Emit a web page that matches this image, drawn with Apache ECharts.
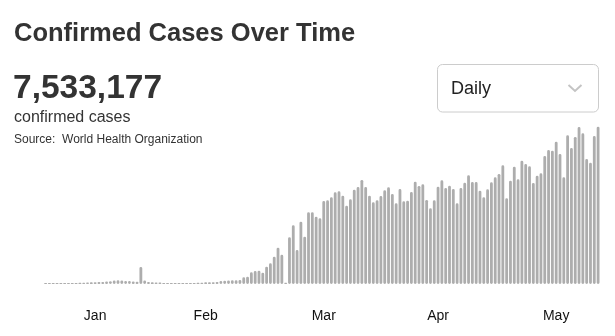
<!DOCTYPE html>
<html>
<head>
<meta charset="utf-8">
<script src="https://cdn.jsdelivr.net/npm/echarts@6/dist/echarts.min.js"></script>
<style>
html,body{margin:0;padding:0;background:#fff;}
#chart{width:615px;height:336px;}
</style>
</head>
<body>
<div id="chart"></div>
<script>
// ---- data ----
var startDate = '2020-01-19';
var dayCount = 146;
var dailyCases = [
  200,150,300,250,450,600,700,650,800,1050,
  1150,1400,1500,1550,1650,1750,2100,2400,3000,3200,
  3100,2700,2500,2100,1900,14800,3000,1700,1500,1400,
  1300,700,650,600,700,650,750,800,850,950,
  1050,1150,1450,1500,1600,1750,2600,2850,3050,3200,
  3200,3500,5800,6300,10100,11200,11500,9800,15000,17900,
  23600,31400,25300,1100,40400,50800,29400,53900,40900,62000,
  62000,58200,56800,71800,72400,75000,79300,80200,76400,67700,
  73300,81600,83900,90000,83900,76400,70700,72400,76100,81000,
  83600,77900,69800,82200,71500,72100,79600,88500,84800,86200,
  72700,65500,72400,84200,89700,83000,85000,82200,69800,83000,
  87600,94000,88200,88200,80700,75000,81900,88000,92300,95200,
  102700,74100,89400,101500,90600,106700,103800,101800,87400,93700,
  95800,110700,115900,115300,123100,112500,92300,128600,117600,127200,
  135800,130400,108100,104900,128000,136100
];
var tickDates = ['2020-02-01','2020-03-01','2020-04-01','2020-05-01','2020-06-01'];
var tickLabels = ['Jan','Feb','Mar','Apr','May'];
var titleText = 'Confirmed Cases Over Time';
var totalText = '7,533,177';
var subText = 'confirmed cases';
var sourceText = 'Source:  World Health Organization';
var dropdownText = 'Daily';

// categories (one per day)
var categories = [];
(function(){
  var d0 = new Date(startDate + 'T00:00:00Z');
  for (var i = 0; i < dayCount; i++) {
    var d = new Date(d0.getTime() + i * 86400000);
    categories.push(d.toISOString().slice(0,10));
  }
})();

var font = '"Liberation Sans", Arial, sans-serif';
var chart = echarts.init(document.getElementById('chart'), null, {renderer:'canvas'});
chart.setOption({
  animation: false,
  backgroundColor: '#ffffff',
  grid: {left: 43.7, right: 15, bottom: 52, top: 110.6, containLabel: false},
  xAxis: {
    type: 'category',
    data: categories,
    boundaryGap: true,
    axisLine: {show: false},
    axisTick: {show: false},
    splitLine: {show: false},
    axisLabel: {
      interval: function(idx, val){ return tickDates.indexOf(val) >= 0; },
      formatter: function(val){ var k = tickDates.indexOf(val); return k >= 0 ? tickLabels[k] : ''; },
      margin: 25,
      fontSize: 14,
      color: '#111',
      fontFamily: font
    }
  },
  yAxis: {
    type: 'value', min: 0, max: 150000, show: false
  },
  series: [{
    type: 'bar',
    data: dailyCases,
    barWidth: 2.8,
    barMinHeight: 1,
    itemStyle: {color: '#adadad', borderRadius: [1.4,1.4,1.4,1.4]},
    emphasis: {disabled: true}
  }],
  graphic: [
    {type:'text', x: 14, y: 34, style:{text: titleText, font: 'bold 25.5px ' + font, fill:'#333', verticalAlign:'middle', align:'left'}},
    {type:'text', x: 13, y: 89, style:{text: totalText, font: 'bold 33.5px ' + font, fill:'#333', verticalAlign:'middle', align:'left'}},
    {type:'text', x: 14, y: 117.5, style:{text: subText, font: '16px ' + font, fill:'#333', verticalAlign:'middle', align:'left'}},
    {type:'text', x: 14, y: 140, style:{text: sourceText, font: '12px ' + font, fill:'#333', verticalAlign:'middle', align:'left'}},
    {type:'rect', shape:{x:437.5, y:64.5, width:161, height:47.5, r:5}, style:{fill:'#fff', stroke:'#cccccc', lineWidth:1}},
    {type:'text', x: 451, y: 89, style:{text: dropdownText, font: '18px ' + font, fill:'#222', verticalAlign:'middle', align:'left'}},
    {type:'polyline', shape:{points:[[568.5,85],[575,91],[581.5,85]]}, style:{stroke:'#c4c4c4', lineWidth:2, fill:null}}
  ]
});
</script>
</body>
</html>
